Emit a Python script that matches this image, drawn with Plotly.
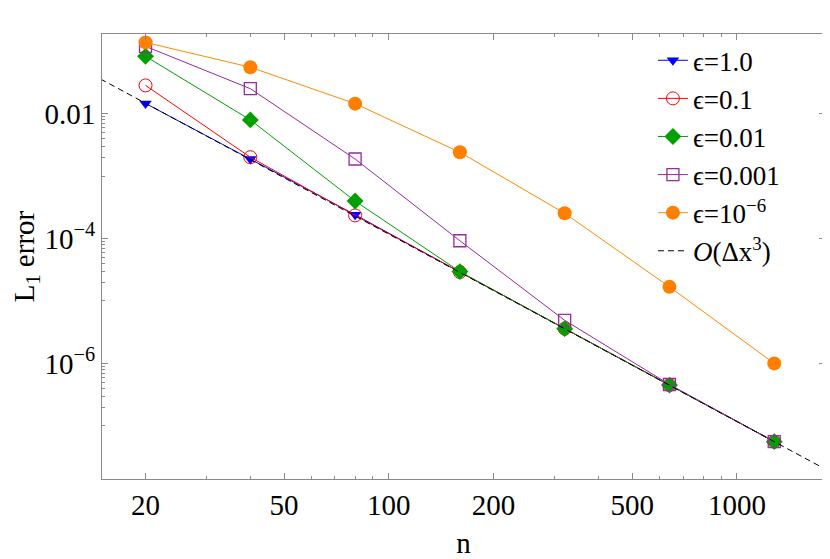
import plotly.graph_objects as go

# grid sizes and L1 errors
n = [20, 40, 80, 160, 320, 640, 1280]

err_eps_1 = [0.0145, 0.00187, 2.40e-4, 2.90e-5, 3.60e-6, 4.50e-7, 5.60e-8]
err_eps_01 = [0.0282, 0.00200, 2.34e-4, 2.90e-5, 3.60e-6, 4.50e-7, 5.60e-8]
err_eps_001 = [0.0824, 0.00790, 3.97e-4, 2.95e-5, 3.60e-6, 4.50e-7, 5.60e-8]
err_eps_0001 = [0.119, 0.0250, 0.00187, 9.20e-5, 4.90e-6, 4.60e-7, 5.60e-8]
err_eps_1e6 = [0.1376, 0.0551, 0.0144, 0.00240, 2.53e-4, 1.68e-5, 1.00e-6]

# third order reference line end points
ref_n = [14, 1900]
ref_err = [4.26e-2, 1.71e-8]

x_ticks = [20, 50, 100, 200, 500, 1000]
x_minor = [30, 40, 60, 70, 80, 90, 300, 400, 600, 700, 800, 900]
y_ticks = [1e-6, 1e-4, 1e-2]
y_ticktext = ["10<sup>−6</sup>", "10<sup>−4</sup>", "0.01"]
y_minor = [m * 10.0 ** (k - 1) for k in (-6, -4, -2) for m in range(1, 10)]

FONT = "Liberation Serif"

fig = go.Figure()

series = [
    (err_eps_1, "ϵ=1.0", "#0000FF", dict(symbol="triangle-down", size=11, color="#0000FF")),
    (err_eps_01, "ϵ=0.1", "#FF0000", dict(symbol="circle-open", size=13, color="#FF0000", line=dict(width=1))),
    (err_eps_001, "ϵ=0.01", "#00A000", dict(symbol="diamond", size=13, color="#00A000")),
    (err_eps_0001, "ϵ=0.001", "#962A9E", dict(symbol="square-open", size=12, color="#962A9E", line=dict(width=1.3))),
    (err_eps_1e6, "ϵ=10<sup>−6</sup>", "#FF8A00", dict(symbol="circle", size=14, color="#FF8000")),
]
for ys, name, col, mk in series:
    fig.add_trace(go.Scatter(x=n, y=ys, mode="lines+markers", name=name,
                             line=dict(color=col, width=1), marker=mk))

# O(dx^3) reference
fig.add_trace(go.Scatter(x=ref_n, y=ref_err, mode="lines", name="<i>O</i>(Δx<sup>3</sup>)",
                         line=dict(color="black", width=1, dash="6px,4px")))

axis_common = dict(
    showline=True, linecolor="#8A8A8A", linewidth=1, mirror="ticks",
    ticks="inside", ticklen=6, tickcolor="#8A8A8A", tickwidth=1,
    showgrid=False, zeroline=False,
    tickfont=dict(family=FONT, size=29, color="black"),
)

fig.update_xaxes(type="log", range=[1.176, 3.253], tickmode="array", tickvals=x_ticks,
                 ticktext=[str(v) for v in x_ticks],
                 minor=dict(tickmode="array", tickvals=x_minor, ticks="inside", ticklen=3,
                            tickcolor="#8A8A8A", tickwidth=1),
                 title=dict(text="n", font=dict(family=FONT, size=29, color="black"), standoff=14),
                 **axis_common)
fig.update_yaxes(type="log", range=[-7.85, -0.727], tickmode="array", tickvals=y_ticks,
                 ticktext=y_ticktext,
                 minor=dict(tickmode="array", tickvals=y_minor, ticks="inside", ticklen=3,
                            tickcolor="#8A8A8A", tickwidth=1),
                 title=dict(text="L<sub>1</sub> error", font=dict(family=FONT, size=29, color="black"), standoff=8),
                 **axis_common)

# the page body has an 8px margin, so the figure is a bit smaller than the window
fig.update_layout(
    width=822, height=551,
    margin=dict(l=94, r=4, t=26, b=77),
    plot_bgcolor="white", paper_bgcolor="white",
    font=dict(family=FONT, size=29, color="black"),
    legend=dict(x=0.762, y=0.995, xanchor="left", yanchor="top",
                bgcolor="rgba(255,255,255,0)", font=dict(family=FONT, size=27),
                itemwidth=30),
)

fig.write_html("out.html")
